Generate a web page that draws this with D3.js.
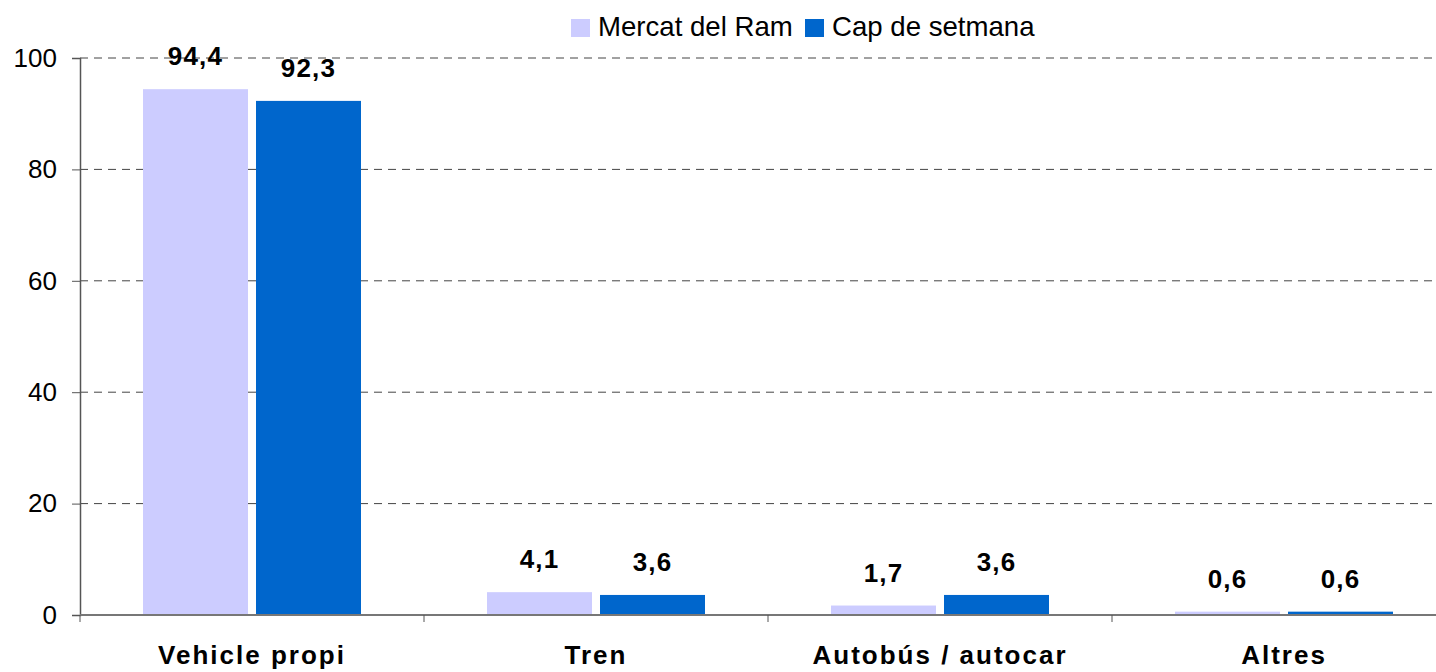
<!DOCTYPE html>
<html>
<head>
<meta charset="utf-8">
<script src="https://cdn.jsdelivr.net/npm/d3@7"></script>
<style>
  body { margin: 0; background: #fff; }
  text { font-family: 'Liberation Sans', Arial, sans-serif; }
</style>
</head>
<body>
<svg id="chart" width="1436" height="672"></svg>
<script>
const categories = ['Vehicle propi', 'Tren', 'Autobús / autocar', 'Altres'];
const seriesNames = ['Mercat del Ram', 'Cap de setmana'];
const mercatValues = [94.4, 4.1, 1.7, 0.6];
const capValues = [92.3, 3.6, 3.6, 0.6];
const yTicks = [0, 20, 40, 60, 80, 100];
const colors = ['#CCCCFF', '#0066CC'];

const svg = d3.select('#chart');
const conf = { left: 80, bandWidth: 344, top: 58, bottom: 615 };

const x0 = d3.scaleBand().domain(categories)
  .range([conf.left, conf.left + conf.bandWidth * categories.length]);
const x1 = d3.scaleBand().domain(seriesNames)
  .range([63, 281]).paddingInner(8 / 113);
const y = d3.scaleLinear().domain([0, 100]).range([conf.bottom, conf.top]);

// gridlines
svg.append('g').selectAll('line')
  .data(yTicks.filter(d => d > 0))
  .enter().append('line')
  .attr('x1', conf.left).attr('x2', 1436)
  .attr('y1', d => y(d)).attr('y2', d => y(d))
  .attr('stroke', '#444').attr('stroke-width', 1)
  .attr('stroke-dasharray', '8,6');

// bars
const data = categories.map((c, i) => ({ cat: c, values: [mercatValues[i], capValues[i]] }));
const groups = svg.append('g').selectAll('g')
  .data(data).enter().append('g')
  .attr('transform', d => 'translate(' + x0(d.cat) + ',0)');
groups.selectAll('rect')
  .data(d => d.values.map((v, j) => ({ s: seriesNames[j], v: v, j: j })))
  .enter().append('rect')
  .attr('x', d => x1(d.s))
  .attr('width', x1.bandwidth())
  .attr('y', d => y(d.v))
  .attr('height', d => conf.bottom - y(d.v))
  .attr('fill', d => colors[d.j]);
groups.selectAll('text')
  .data(d => d.values.map((v, j) => ({ s: seriesNames[j], v: v })))
  .enter().append('text')
  .text(d => d.v.toFixed(1).replace('.', ','))
  .attr('x', d => x1(d.s) + x1.bandwidth() / 2)
  .attr('y', d => y(d.v) - 24)
  .attr('text-anchor', 'middle')
  .attr('font-size', 26).attr('font-weight', 'bold')
  .attr('letter-spacing', 1.2);

// y axis
const yAxis = svg.append('g')
  .attr('transform', 'translate(' + conf.left + ',0)')
  .call(d3.axisLeft(y).tickValues(yTicks).tickSize(8).tickPadding(15));
yAxis.select('.domain').attr('stroke', '#555').attr('stroke-width', 1.5);
yAxis.selectAll('.tick line').attr('stroke', '#555');
yAxis.selectAll('.tick text')
  .attr('font-size', 26).attr('fill', '#000')
  .style('font-family', "'Liberation Sans', Arial, sans-serif");

// x axis
const xAxisLine = svg.append('g');
xAxisLine.append('line')
  .attr('x1', conf.left).attr('x2', 1436)
  .attr('y1', conf.bottom).attr('y2', conf.bottom)
  .attr('stroke', '#777').attr('stroke-width', 2);
xAxisLine.selectAll('.sep')
  .data(d3.range(categories.length + 1))
  .enter().append('line')
  .attr('x1', i => conf.left + i * x0.step()).attr('x2', i => conf.left + i * x0.step())
  .attr('y1', conf.bottom).attr('y2', conf.bottom + 7)
  .attr('stroke', '#555');
svg.append('g').selectAll('text')
  .data(categories).enter().append('text')
  .text(d => d)
  .attr('x', d => x0(d) + x0.bandwidth() / 2)
  .attr('y', 664)
  .attr('text-anchor', 'middle')
  .attr('font-size', 26).attr('font-weight', 'bold')
  .attr('letter-spacing', 2);

// legend
const legendX = [571, 805];
const legend = svg.append('g').selectAll('g')
  .data(seriesNames).enter().append('g')
  .attr('transform', (d, i) => 'translate(' + legendX[i] + ',19)');
legend.append('rect')
  .attr('width', 19).attr('height', 18)
  .attr('fill', (d, i) => colors[i]);
legend.append('text')
  .text(d => d)
  .attr('x', 27).attr('y', 17)
  .attr('font-size', 27.6);
</script>
</body>
</html>
